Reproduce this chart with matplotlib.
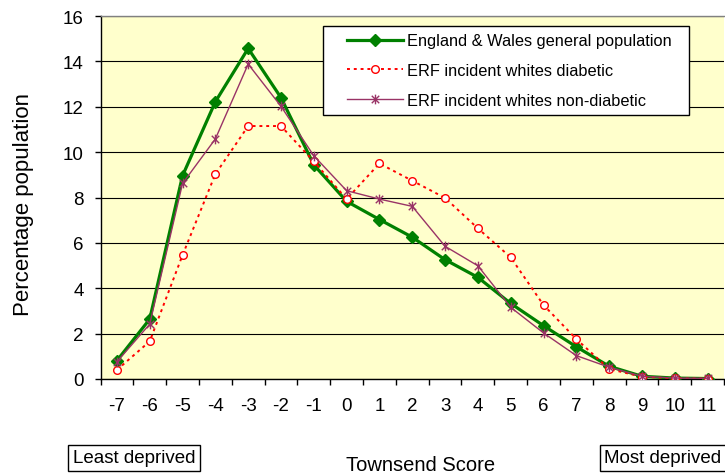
import matplotlib
matplotlib.use("Agg")
import matplotlib.pyplot as plt
from matplotlib.path import Path
from matplotlib.legend_handler import HandlerLine2D
import numpy as np

plt.rcParams['font.family'] = ['Liberation Sans', 'DejaVu Sans']

categories = ['-7', '-6', '-5', '-4', '-3', '-2', '-1', '0', '1', '2', '3', '4',
              '5', '6', '7', '8', '9', '10', '11']
general_pop = [0.81, 2.64, 8.96, 12.22, 14.57, 12.40, 9.44, 7.83, 7.03, 6.25,
               5.26, 4.48, 3.33, 2.35, 1.42, 0.56, 0.12, 0.04, 0.02]
diabetic = [0.40, 1.66, 5.46, 9.03, 11.15, 11.15, 9.59, 7.93, 9.50, 8.74,
            7.98, 6.64, 5.36, 3.26, 1.76, 0.44, 0.10, 0.03, 0.02]
non_diabetic = [0.76, 2.42, 8.62, 10.58, 13.88, 12.02, 9.84, 8.30, 7.93, 7.61,
                5.85, 4.99, 3.16, 2.03, 1.03, 0.52, 0.12, 0.04, 0.03]
labels = ['England & Wales general population',
          'ERF incident whites diabetic',
          'ERF incident whites non-diabetic']
yticks = [0, 2, 4, 6, 8, 10, 12, 14, 16]

W, H = 725, 477
fig = plt.figure(figsize=(W / 100, H / 100), dpi=100)
fig.patch.set_facecolor('white')
left, right, top, bottom = 100.5, 724, 17, 380
ax = fig.add_axes([left / W, 1 - bottom / H, (right - left) / W, (bottom - top) / H])
ax.set_facecolor('#FFFFCC')

x = np.arange(len(categories))

star = Path([(-1, -1), (1, 1), (-1, 1), (1, -1), (0, -1.3), (0, 1.3)],
            [Path.MOVETO, Path.LINETO, Path.MOVETO, Path.LINETO, Path.MOVETO, Path.LINETO])

l1, = ax.plot(x, general_pop, color='#008000', lw=2.3, marker='D', ms=6.5,
              mfc='#008000', mec='#008000', label=labels[0], zorder=3)
l2, = ax.plot(x, diabetic, color='#FF0000', lw=1.4, ls=(0, (1.5, 2.0)), marker='o', ms=5.5,
              mfc='white', mec='#FF0000', mew=1.0, label=labels[1], zorder=4)
l3, = ax.plot(x, non_diabetic, color='#993366', lw=1.0, marker=star, ms=7,
              mec='#993366', mew=1.0, label=labels[2], zorder=5)

ax.set_xlim(-0.5, len(categories) - 0.5)
ax.set_ylim(0, 16)
ax.set_yticks(yticks)
ax.set_yticklabels([str(v) for v in yticks], fontsize=13.5)
ax.set_xticks(x)
ax.set_xticklabels(categories, fontsize=13.5)
ax.set_xticks(np.arange(-0.5, len(categories), 1.0), minor=True)
ax.tick_params(axis='x', which='major', length=0, pad=13)
ax.tick_params(axis='x', which='minor', length=4, width=1, direction='out', color='black')
ax.tick_params(axis='y', which='major', length=4, width=1, direction='out', pad=8)

ax.grid(axis='y', color='black', lw=0.8, zorder=1)
ax.set_axisbelow(True)
for s in ['left', 'bottom']:
    ax.spines[s].set_color('black')
    ax.spines[s].set_linewidth(1.0)
ax.spines['top'].set_color('#808080')
ax.spines['top'].set_linewidth(1.0)
ax.spines['right'].set_visible(False)

fig.text(24 / W, 1 - 204 / H, 'Percentage population', rotation=90, fontsize=16,
         ha='center', va='center')
fig.text(421 / W, 1 - 466 / H, 'Townsend Score', fontsize=14.5, ha='center', va='center')
fig.text(134 / W, 1 - 459 / H, 'Least deprived', fontsize=13.5, ha='center', va='center',
         bbox=dict(boxstyle='square,pad=0.25', fc='white', ec='black', lw=1))
fig.text(663 / W, 1 - 459 / H, 'Most deprived', fontsize=13.5, ha='center', va='center',
         bbox=dict(boxstyle='square,pad=0.25', fc='white', ec='black', lw=1))

hmap = {l: HandlerLine2D(xpad=1.0) for l in (l1, l2, l3)}
leg = ax.legend(handles=[l1, l2, l3], handler_map=hmap,
                loc='upper left',
                bbox_to_anchor=(323 / W, 1 - 27 / H - 0.01, (689 - 323) / W, 0.01),
                bbox_transform=fig.transFigure, mode='expand', borderaxespad=0,
                fontsize=11.8, frameon=True, fancybox=False, edgecolor='black',
                handlelength=4.45, handletextpad=0.22, labelspacing=0.9,
                borderpad=0.45)
leg.get_frame().set_linewidth(1.0)
leg.get_frame().set_facecolor('white')
leg.get_frame().set_alpha(1)

fig.savefig('out.png', dpi=100)
